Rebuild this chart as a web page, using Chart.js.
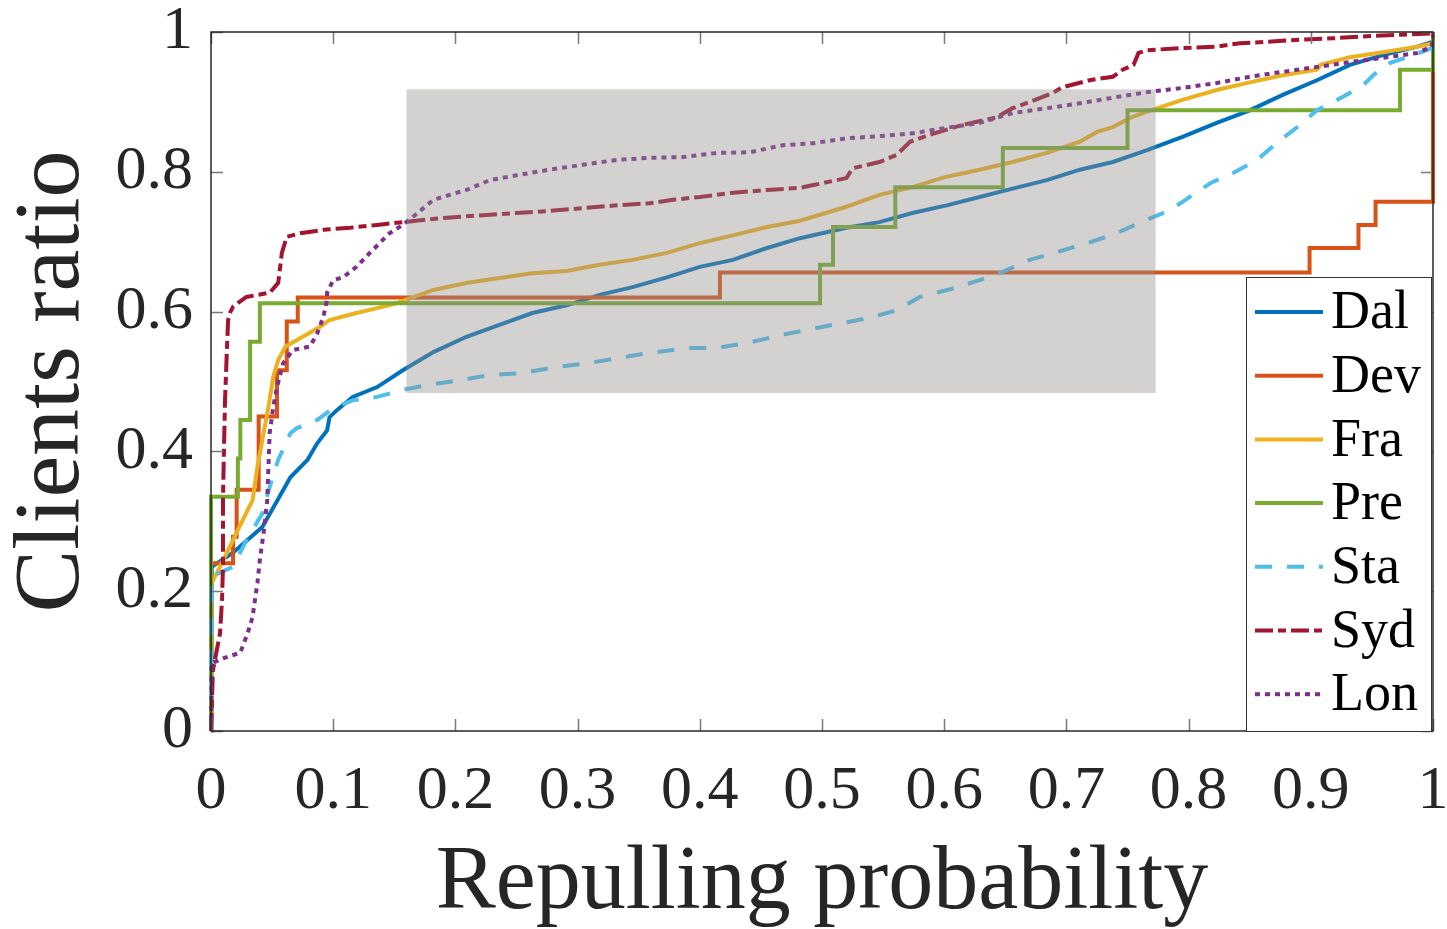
<!DOCTYPE html>
<html>
<head>
<meta charset="utf-8">
<script src="https://cdn.jsdelivr.net/npm/chart.js@4.4.1/dist/chart.umd.min.js"></script>
<style>
  html, body { margin: 0; padding: 0; background: #ffffff; }
  #wrap { width: 1447px; height: 929px; }
</style>
</head>
<body>
<div id="wrap"><canvas id="c" width="1447" height="929"></canvas></div>
<script>
// ---------------- data (x = repulling probability, y = clients ratio) ----------------
const seriesNames = ['Dal', 'Dev', 'Fra', 'Pre', 'Sta', 'Syd', 'Lon'];
const xTickValues = [0, 0.1, 0.2, 0.3, 0.4, 0.5, 0.6, 0.7, 0.8, 0.9, 1];
const xTickLabels = ['0', '0.1', '0.2', '0.3', '0.4', '0.5', '0.6', '0.7', '0.8', '0.9', '1'];
const yTickValues = [0, 0.2, 0.4, 0.6, 0.8, 1];
const yTickLabels = ['0', '0.2', '0.4', '0.6', '0.8', '1'];
const highlightX = [0.16, 0.773];
const highlightY = [0.4835, 0.918];

const dal = [[0,0],[0.0006,0.235],[0.018,0.255],[0.042,0.292],[0.056,0.335],[0.065,0.363],[0.079,0.388],[0.087,0.412],[0.095,0.43],[0.097,0.449],[0.103,0.459],[0.116,0.478],[0.136,0.492],[0.157,0.516],[0.182,0.542],[0.209,0.564],[0.236,0.581],[0.263,0.598],[0.291,0.609],[0.318,0.624],[0.345,0.635],[0.373,0.649],[0.400,0.664],[0.427,0.674],[0.455,0.691],[0.482,0.705],[0.520,0.72],[0.547,0.728],[0.574,0.741],[0.602,0.752],[0.629,0.764],[0.656,0.776],[0.684,0.788],[0.711,0.803],[0.738,0.814],[0.766,0.831],[0.795,0.85],[0.823,0.87],[0.850,0.888],[0.877,0.91],[0.905,0.931],[0.932,0.953],[0.959,0.967],[0.987,0.979],[1.0,0.986]];
const dev = [[0,0],[0,0.24],[0.018,0.278],[0.021,0.345],[0.039,0.45],[0.054,0.516],[0.062,0.586],[0.071,0.62],[0.4165,0.656],[0.899,0.691],[0.939,0.724],[0.953,0.757],[1.0,1.0]];
const fra = [[0,0],[0.0006,0.212],[0.0074,0.235],[0.018,0.273],[0.026,0.302],[0.034,0.33],[0.038,0.378],[0.042,0.416],[0.047,0.464],[0.051,0.507],[0.055,0.531],[0.061,0.55],[0.075,0.564],[0.089,0.578],[0.097,0.588],[0.119,0.598],[0.136,0.605],[0.152,0.612],[0.16,0.617],[0.182,0.631],[0.209,0.641],[0.236,0.648],[0.263,0.655],[0.291,0.658],[0.318,0.667],[0.345,0.674],[0.373,0.684],[0.4,0.698],[0.427,0.709],[0.455,0.721],[0.482,0.73],[0.52,0.75],[0.547,0.767],[0.574,0.778],[0.602,0.793],[0.629,0.803],[0.656,0.814],[0.684,0.827],[0.711,0.843],[0.725,0.857],[0.738,0.864],[0.752,0.877],[0.766,0.886],[0.795,0.903],[0.823,0.917],[0.85,0.928],[0.877,0.938],[0.905,0.946],[0.908,0.953],[0.932,0.964],[0.959,0.971],[0.987,0.979],[1.0,0.984]];
const pre = [[0,0],[0,0.335],[0.022,0.39],[0.024,0.445],[0.032,0.557],[0.040,0.612],[0.4984,0.667],[0.509,0.721],[0.56,0.778],[0.648,0.834],[0.750,0.888],[0.973,0.946],[1.0,0.99]];
const sta = [[0,0],[0.0006,0.221],[0.018,0.235],[0.029,0.273],[0.042,0.311],[0.048,0.349],[0.055,0.388],[0.065,0.426],[0.07,0.433],[0.087,0.445],[0.1,0.462],[0.116,0.473],[0.136,0.478],[0.157,0.488],[0.177,0.495],[0.204,0.502],[0.228,0.509],[0.255,0.512],[0.283,0.521],[0.308,0.526],[0.335,0.534],[0.359,0.541],[0.392,0.548],[0.414,0.548],[0.439,0.555],[0.468,0.567],[0.488,0.574],[0.515,0.583],[0.539,0.591],[0.561,0.602],[0.58,0.621],[0.605,0.632],[0.629,0.645],[0.648,0.657],[0.67,0.674],[0.692,0.685],[0.717,0.698],[0.738,0.71],[0.76,0.727],[0.782,0.743],[0.795,0.757],[0.818,0.784],[0.836,0.798],[0.856,0.817],[0.872,0.841],[0.889,0.864],[0.905,0.888],[0.926,0.907],[0.943,0.924],[0.951,0.938],[0.965,0.956],[0.981,0.965],[0.999,0.977],[1.0,0.985]];
const syd = [[0,0],[0.0016,0.087],[0.0074,0.14],[0.009,0.187],[0.0098,0.235],[0.0098,0.33],[0.0106,0.402],[0.0115,0.474],[0.013,0.545],[0.014,0.588],[0.0155,0.598],[0.018,0.607],[0.029,0.621],[0.048,0.627],[0.055,0.641],[0.058,0.684],[0.062,0.707],[0.073,0.712],[0.092,0.717],[0.114,0.72],[0.136,0.724],[0.157,0.728],[0.19,0.734],[0.223,0.738],[0.25,0.741],[0.277,0.744],[0.304,0.748],[0.332,0.752],[0.359,0.755],[0.378,0.76],[0.4,0.764],[0.427,0.77],[0.455,0.774],[0.482,0.777],[0.493,0.781],[0.52,0.791],[0.525,0.805],[0.547,0.814],[0.561,0.824],[0.572,0.843],[0.588,0.853],[0.615,0.867],[0.643,0.878],[0.656,0.891],[0.67,0.9],[0.689,0.913],[0.697,0.921],[0.719,0.931],[0.738,0.936],[0.746,0.946],[0.755,0.953],[0.759,0.97],[0.766,0.974],[0.795,0.977],[0.823,0.979],[0.842,0.984],[0.864,0.986],[0.891,0.989],[0.918,0.991],[0.946,0.994],[0.973,0.996],[1.0,0.998]];
const lon = [[0,0],[0.0006,0.097],[0.0098,0.104],[0.024,0.112],[0.03,0.14],[0.034,0.163],[0.038,0.212],[0.04,0.245],[0.043,0.283],[0.046,0.33],[0.047,0.378],[0.048,0.426],[0.051,0.464],[0.054,0.492],[0.059,0.526],[0.067,0.545],[0.081,0.55],[0.087,0.569],[0.092,0.593],[0.095,0.617],[0.095,0.627],[0.1,0.645],[0.108,0.649],[0.119,0.664],[0.13,0.684],[0.138,0.698],[0.146,0.712],[0.157,0.724],[0.169,0.741],[0.182,0.76],[0.209,0.774],[0.228,0.788],[0.25,0.795],[0.277,0.803],[0.304,0.81],[0.332,0.817],[0.359,0.82],[0.386,0.821],[0.414,0.827],[0.441,0.828],[0.468,0.838],[0.493,0.841],[0.52,0.848],[0.547,0.851],[0.574,0.855],[0.602,0.863],[0.629,0.87],[0.656,0.884],[0.684,0.891],[0.711,0.898],[0.738,0.906],[0.766,0.914],[0.795,0.92],[0.823,0.927],[0.85,0.936],[0.877,0.943],[0.905,0.95],[0.932,0.957],[0.959,0.963],[0.987,0.97],[0.999,0.979],[1.0,0.996]];

// ---------------- styles ----------------
const seriesData = [dal, dev, fra, pre, sta, syd, lon];
const seriesColors = ['#0072BD', '#D95319', '#EDB120', '#77AC30', '#4DBEEE', '#A2142F', '#7E2F8E'];
const seriesDash = [[], [], [], [], [17, 15], [18, 5, 8, 5], [5, 5]];
const seriesStepped = [false, 'before', false, 'before', false, false, false];
const FONT = '"Liberation Serif", "Times New Roman", Times, serif';
const AXIS_COLOR = '#262626';

const datasets = seriesNames.map((name, i) => ({
  label: name,
  data: seriesData[i].map(p => ({ x: p[0], y: p[1] })),
  borderColor: seriesColors[i],
  backgroundColor: seriesColors[i],
  borderWidth: 4,
  borderDash: seriesDash[i],
  borderCapStyle: 'butt',
  borderJoinStyle: 'miter',
  stepped: seriesStepped[i],
  pointRadius: 0,
  tension: 0,
  fill: false,
  clip: 6,
  order: seriesNames.length - i
}));

const overlayPlugin = {
  id: 'overlay',
  afterDatasetsDraw(chart) {
    const { ctx, chartArea: a, scales: { x, y } } = chart;
    ctx.save();
    // semi-transparent highlight box
    const x0 = x.getPixelForValue(highlightX[0]), x1 = x.getPixelForValue(highlightX[1]);
    const y0 = y.getPixelForValue(highlightY[1]), y1 = y.getPixelForValue(highlightY[0]);
    ctx.fillStyle = 'rgba(145,143,141,0.4)';
    ctx.fillRect(x0, y0, x1 - x0, y1 - y0);

    // inward tick marks on all four sides
    const tl = 12;
    ctx.strokeStyle = '#7a7a7a';
    ctx.lineWidth = 1.5;
    ctx.beginPath();
    xTickValues.forEach(v => {
      const px = Math.round(x.getPixelForValue(v)) + 0.5;
      ctx.moveTo(px, a.bottom); ctx.lineTo(px, a.bottom - tl);
      ctx.moveTo(px, a.top); ctx.lineTo(px, a.top + tl);
    });
    yTickValues.forEach(v => {
      const py = Math.round(y.getPixelForValue(v)) + 0.5;
      ctx.moveTo(a.left, py); ctx.lineTo(a.left + tl, py);
      ctx.moveTo(a.right, py); ctx.lineTo(a.right - tl, py);
    });
    ctx.stroke();

    // axes box
    ctx.strokeStyle = AXIS_COLOR;
    ctx.lineWidth = 1.5;
    ctx.strokeRect(a.left, a.top, a.right - a.left, a.bottom - a.top);

    // legend
    const lw = 185, rowH = 63.7;
    const lx = a.right - 2 - lw, ly = a.bottom - 454;
    ctx.fillStyle = '#ffffff';
    ctx.fillRect(lx, ly, lw, 454);
    ctx.strokeStyle = '#333333';
    ctx.lineWidth = 1;
    ctx.strokeRect(lx + 0.5, ly + 0.5, lw, 454);
    chart.data.datasets.forEach((ds, i) => {
      const cy = ly + 35 + i * rowH;
      ctx.strokeStyle = ds.borderColor;
      ctx.lineWidth = 4;
      ctx.lineCap = 'butt';
      ctx.setLineDash(ds.borderDash);
      ctx.beginPath();
      ctx.moveTo(lx + 9, cy); ctx.lineTo(lx + 77, cy);
      ctx.stroke();
      ctx.setLineDash([]);
      ctx.fillStyle = '#000000';
      ctx.font = '54px ' + FONT;
      ctx.textAlign = 'left';
      ctx.textBaseline = 'middle';
      ctx.fillText(ds.label, lx + 85, cy + 2);
    });
    ctx.restore();
  }
};

new Chart(document.getElementById('c'), {
  type: 'line',
  data: { datasets },
  options: {
    responsive: false,
    animation: false,
    layout: { padding: { left: 0, right: 14, top: 32, bottom: 0 } },
    plugins: { legend: { display: false }, tooltip: { enabled: false } },
    scales: {
      x: {
        type: 'linear', min: 0, max: 1,
        afterBuildTicks: s => { s.ticks = xTickValues.map(v => ({ value: v })); },
        afterFit: s => { s.height = 198; s.paddingLeft = 0; s.paddingRight = 0; },
        grid: { display: false, drawTicks: false },
        border: { display: false },
        ticks: {
          padding: 24, maxRotation: 0, autoSkip: false, color: AXIS_COLOR,
          font: { family: FONT, size: 62 },
          callback: (v) => { const k = xTickValues.findIndex(t => Math.abs(t - v) < 1e-9); return k >= 0 ? xTickLabels[k] : ''; }
        },
        title: { display: true, text: 'Repulling probability', color: AXIS_COLOR, font: { family: FONT, size: 90, lineHeight: 1.0 }, padding: { top: 0, bottom: 0 } }
      },
      y: {
        type: 'linear', min: 0, max: 1,
        afterBuildTicks: s => { s.ticks = yTickValues.map(v => ({ value: v })); },
        afterFit: s => { s.width = 211; s.paddingTop = 0; s.paddingBottom = 0; },
        grid: { display: false, drawTicks: false },
        border: { display: false },
        ticks: {
          padding: 18, color: AXIS_COLOR,
          font: { family: FONT, size: 62 },
          callback: (v) => { const k = yTickValues.findIndex(t => Math.abs(t - v) < 1e-9); return k >= 0 ? yTickLabels[k] : ''; }
        },
        title: { display: true, text: 'Clients ratio', color: AXIS_COLOR, font: { family: FONT, size: 94, lineHeight: 1.0 }, padding: { top: 6, bottom: 0 } }
      }
    }
  },
  plugins: [overlayPlugin]
});
</script>
</body>
</html>
